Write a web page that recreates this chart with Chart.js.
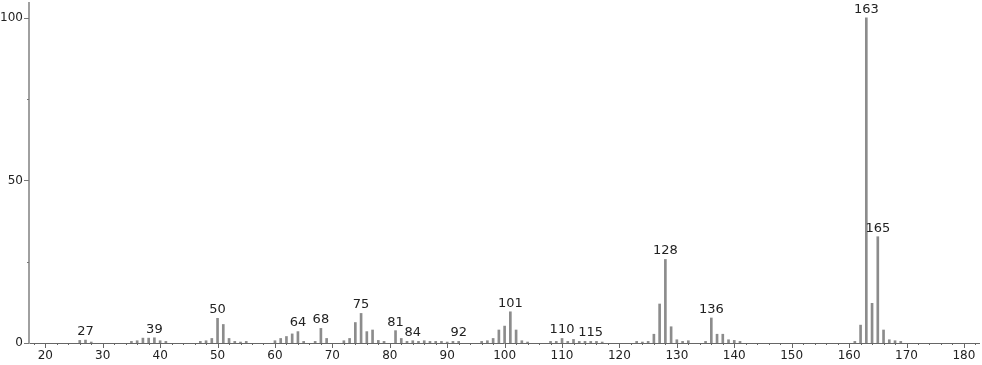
<!DOCTYPE html>
<html>
<head>
<meta charset="utf-8">
<script src="https://cdn.jsdelivr.net/npm/chart.js@4"></script>
<style>
  html, body { margin: 0; padding: 0; background: #fff; }
  #wrap { width: 982px; height: 365px; }
</style>
</head>
<body>
<div id="wrap"><canvas id="ms_chart" width="982" height="365"></canvas></div>
<script>
// m/z values and relative intensities
const mz = [
  26, 27, 28, 35, 36, 37, 38, 39, 40, 41, 47, 48, 49, 50, 51, 52, 53, 54, 55,
  60, 61, 62, 63, 64, 65, 67, 68, 69, 72, 73, 74, 75, 76, 77, 78, 79,
  81, 82, 83, 84, 85, 86, 87, 88, 89, 90, 91, 92,
  96, 97, 98, 99, 100, 101, 102, 103, 104,
  108, 109, 110, 111, 112, 113, 114, 115, 116, 117,
  123, 124, 125, 126, 127, 128, 129, 130, 131, 132,
  135, 136, 137, 138, 139, 140, 141,
  161, 162, 163, 164, 165, 166, 167, 168, 169
];
const intensity = [
  0.8, 0.9, 0.3, 0.5, 0.7, 1.5, 1.5, 1.6, 0.7, 0.5, 0.5, 0.7, 1.4, 7.6, 5.7, 1.4, 0.5, 0.3, 0.5,
  0.7, 1.4, 2.0, 2.8, 3.5, 0.5, 0.5, 4.5, 1.4, 0.7, 1.4, 6.3, 9.1, 3.5, 4.0, 0.8, 0.5,
  3.8, 1.4, 0.5, 0.7, 0.5, 0.7, 0.5, 0.5, 0.5, 0.3, 0.5, 0.5,
  0.5, 0.7, 1.4, 4.0, 5.2, 9.6, 4.0, 0.7, 0.3,
  0.5, 0.5, 1.4, 0.5, 1.1, 0.5, 0.5, 0.5, 0.5, 0.3,
  0.5, 0.3, 0.5, 2.7, 12.0, 25.7, 5.0, 1.0, 0.5, 0.7,
  0.5, 7.7, 2.7, 2.7, 1.0, 0.8, 0.5,
  0.5, 5.5, 100, 12.2, 32.7, 4.0, 1.0, 0.7, 0.5
];
// peaks that carry a m/z label
const labeled_mz = [27, 39, 50, 64, 68, 75, 81, 84, 92, 101, 110, 115, 128, 136, 163, 165];

const x_major = [20, 30, 40, 50, 60, 70, 80, 90, 100, 110, 120, 130, 140, 150, 160, 170, 180];
const y_major = [0, 50, 100];
const y_minor = [25, 75];

const font_family = "'DejaVu Sans', sans-serif";

const points = mz.map((m, i) => ({ x: m, y: intensity[i] }));

// axes, ticks, tick labels and peak labels
const spectrumDeco = {
  id: "spectrumDeco",
  afterDraw(chart) {
    const ctx = chart.ctx;
    const xs = chart.scales.x;
    const ys = chart.scales.y;
    const y0 = Math.round(ys.getPixelForValue(0));
    const xl = xs.left;
    ctx.save();

    // x axis line
    ctx.strokeStyle = "#666";
    ctx.lineWidth = 1;
    ctx.beginPath();
    ctx.moveTo(xl, y0 + 0.5);
    ctx.lineTo(xs.right, y0 + 0.5);
    ctx.stroke();

    // x ticks: major every 10, minor every 2
    for (let v = 18; v <= 182; v += 2) {
      const px = Math.round(xs.getPixelForValue(v)) + 0.5;
      const len = v % 10 == 0 ? 5 : 2;
      ctx.beginPath();
      ctx.moveTo(px, y0);
      ctx.lineTo(px, y0 + len);
      ctx.stroke();
    }

    // y axis line
    ctx.strokeStyle = "#a0a0a0";
    ctx.lineWidth = 2;
    ctx.beginPath();
    ctx.moveTo(xl, y0 + 1);
    ctx.lineTo(xl, ys.top);
    ctx.stroke();

    ctx.strokeStyle = "#777";
    ctx.lineWidth = 1;
    y_major.forEach((v) => {
      const py = Math.round(ys.getPixelForValue(v)) + 0.5;
      ctx.beginPath();
      ctx.moveTo(xl - 5, py);
      ctx.lineTo(xl, py);
      ctx.stroke();
    });
    y_minor.forEach((v) => {
      const py = Math.round(ys.getPixelForValue(v)) + 0.5;
      ctx.beginPath();
      ctx.moveTo(xl - 2, py);
      ctx.lineTo(xl, py);
      ctx.stroke();
    });

    // tick labels
    ctx.fillStyle = "#222";
    ctx.font = "12px " + font_family;
    ctx.textAlign = "center";
    ctx.textBaseline = "middle";
    x_major.forEach((v) => {
      ctx.fillText(String(v), xs.getPixelForValue(v), y0 + 13);
    });
    ctx.textAlign = "right";
    y_major.forEach((v) => {
      ctx.fillText(String(v), xl - 6, ys.getPixelForValue(v));
    });

    // peak labels
    ctx.font = "13px " + font_family;
    ctx.textAlign = "center";
    ctx.textBaseline = "bottom";
    labeled_mz.forEach((m) => {
      const idx = mz.indexOf(m);
      const px = xs.getPixelForValue(m);
      const py = ys.getPixelForValue(intensity[idx]);
      ctx.fillText(String(m), px, py - 2);
    });
    ctx.restore();
  },
};

const ms_ctx = document.getElementById("ms_chart");

const ms_chart = new Chart(ms_ctx, {
  type: "bar",
  data: {
    datasets: [
      {
        data: points,
        backgroundColor: "#8c8c8c",
        barThickness: 2,
      },
    ],
  },
  options: {
    responsive: false,
    animation: false,
    layout: { padding: { left: 29, right: 2, top: 2, bottom: 22 } },
    plugins: {
      legend: { display: false },
      tooltip: { enabled: false },
    },
    scales: {
      x: {
        type: "linear",
        min: 17.16,
        max: 182.8,
        offset: false,
        display: false,
      },
      y: {
        min: 0,
        max: 104.9,
        display: false,
      },
    },
  },
  plugins: [spectrumDeco],
});
</script>
</body>
</html>
